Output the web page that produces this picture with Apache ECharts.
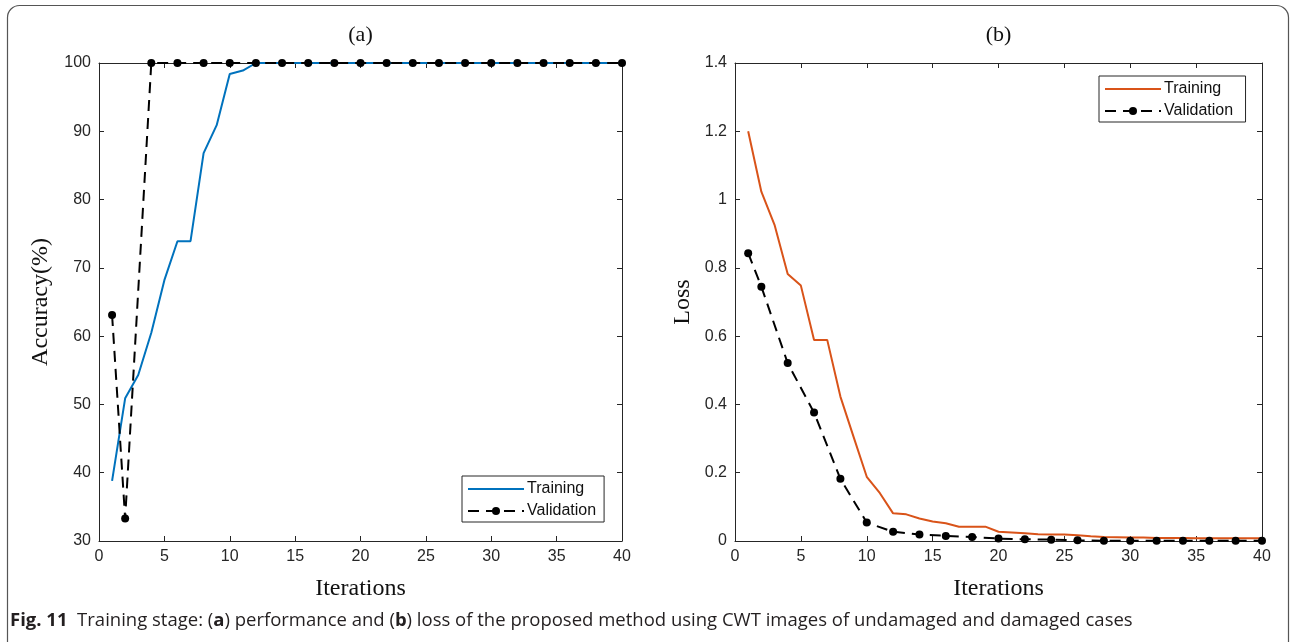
<!DOCTYPE html>
<html>
<head>
<meta charset="utf-8">
<script src="https://cdn.jsdelivr.net/npm/echarts@6/dist/echarts.min.js"></script>
<style>
  html, body { margin: 0; padding: 0; background: #fff; }
  #chart { width: 1292px; height: 642px; }
</style>
</head>
<body>
<div id="chart"></div>
<script>
// (a) accuracy per iteration
const accIter = [1,2,3,4,5,6,7,8,9,10,11,12,13,14,15,16,17,18,19,20,21,22,23,24,25,26,27,28,29,30,31,32,33,34,35,36,37,38,39,40];
const accTrain = [38.8,50.9,54.3,60.5,68.2,73.9,73.9,86.8,90.9,98.4,98.9,100,100,100,100,100,100,100,100,100,100,100,100,100,100,100,100,100,100,100,100,100,100,100,100,100,100,100,100,100];
const valIter = [1,2,4,6,8,10,12,14,16,18,20,22,24,26,28,30,32,34,36,38,40];
const accVal = [63.1,33.3,100,100,100,100,100,100,100,100,100,100,100,100,100,100,100,100,100,100,100];

// (b) loss per iteration
const lossIter = accIter;
const lossTrain = [1.200,1.023,0.926,0.782,0.748,0.589,0.589,0.423,0.305,0.188,0.140,0.081,0.078,0.066,0.057,0.052,0.042,0.042,0.042,0.027,0.025,0.023,0.020,0.019,0.019,0.017,0.014,0.012,0.011,0.010,0.010,0.009,0.009,0.009,0.008,0.008,0.008,0.008,0.008,0.008];
const lossVal = [0.843,0.745,0.521,0.376,0.182,0.054,0.027,0.019,0.015,0.012,0.007,0.005,0.004,0.002,0.001,0.001,0.001,0.001,0.001,0.001,0.001];

const panelTitles = ['(a)', '(b)'];
const xName = 'Iterations';
const yNames = ['Accuracy(%)', 'Loss'];
const seriesNames = ['Training', 'Validation'];
const captionBold = 'Fig. 11';

const AX = '#262626';
const BLUE = '#0072BD';
const ORANGE = '#D95319';
const SERIF = '"Liberation Serif", "DejaVu Serif", serif';
const SANS = '"Liberation Sans", Arial, sans-serif';

const pair = (xs, ys) => xs.map((x, i) => [x, ys[i]]);

function valueAxis(gridIndex, pos, min, max, interval, showLabel) {
  return {
    type: 'value', gridIndex, position: pos, min, max, interval,
    axisLine: { show: true, onZero: false, lineStyle: { color: AX, width: 1 } },
    axisTick: { show: true, inside: true, length: 5, lineStyle: { color: AX } },
    axisLabel: { show: showLabel, color: AX, fontFamily: SANS, fontSize: 16, margin: 8 },
    splitLine: { show: false }
  };
}

const grids = [
  { left: 99, top: 63, width: 523, height: 478 },
  { left: 735, top: 63, width: 527, height: 478 }
];

const xAxes = [
  valueAxis(0, 'bottom', 0, 40, 5, true),
  valueAxis(0, 'top', 0, 40, 5, false),
  valueAxis(1, 'bottom', 0, 40, 5, true),
  valueAxis(1, 'top', 0, 40, 5, false)
];
const yAxes = [
  valueAxis(0, 'left', 30, 100, 10, true),
  valueAxis(0, 'right', 30, 100, 10, false),
  valueAxis(1, 'left', 0, 1.4, 0.2, true),
  valueAxis(1, 'right', 0, 1.4, 0.2, false)
];

function trainSeries(name, xi, yi, data, color) {
  return {
    name, type: 'line', xAxisIndex: xi, yAxisIndex: yi, data,
    showSymbol: false, symbol: 'none', animation: false,
    lineStyle: { color, width: 2 }, itemStyle: { color }
  };
}
function valSeries(name, xi, yi, data) {
  return {
    name, type: 'line', xAxisIndex: xi, yAxisIndex: yi, data,
    symbol: 'circle', symbolSize: 8, animation: false, clip: false,
    lineStyle: { color: '#000', width: 2, type: [11, 7] },
    itemStyle: { color: '#000' }
  };
}

// plain line sample for the training entry, line + dot for validation
function legendAt(left, top, trainName, valName) {
  return {
    data: [
      { name: trainName, itemStyle: { opacity: 0 } },
      { name: valName }
    ],
    left, top, orient: 'vertical',
    backgroundColor: '#fff', borderColor: AX, borderWidth: 1,
    padding: [5, 8, 3, 5], itemGap: 6, itemWidth: 56, itemHeight: 10,
    textStyle: { color: '#111', fontFamily: SANS, fontSize: 16, padding: [0, 0, 0, -2] },
    selectedMode: false
  };
}

const option = {
  backgroundColor: '#fff',
  animation: false,
  grid: grids,
  xAxis: xAxes,
  yAxis: yAxes,
  legend: [
    legendAt(462, 476, seriesNames[0], seriesNames[1]),
    legendAt(1099, 76, seriesNames[0] + ' ', seriesNames[1] + ' ')
  ],
  series: [
    trainSeries(seriesNames[0], 0, 0, pair(accIter, accTrain), BLUE),
    valSeries(seriesNames[1], 0, 0, pair(valIter, accVal)),
    trainSeries(seriesNames[0] + ' ', 2, 2, pair(lossIter, lossTrain), ORANGE),
    valSeries(seriesNames[1] + ' ', 2, 2, pair(valIter, lossVal))
  ],
  graphic: [
    { type: 'rect', shape: { x: 7.5, y: 5.5, width: 1281, height: 680, r: 12 },
      style: { fill: 'none', stroke: '#555', lineWidth: 1.2 }, z: -10 },
    { type: 'text', x: 360.5, y: 35, style: { text: panelTitles[0], font: '22px ' + SERIF, fill: '#111', textAlign: 'center', textVerticalAlign: 'middle' } },
    { type: 'text', x: 998.5, y: 35, style: { text: panelTitles[1], font: '22px ' + SERIF, fill: '#111', textAlign: 'center', textVerticalAlign: 'middle' } },
    { type: 'text', x: 360.5, y: 589, style: { text: xName, font: '24px ' + SERIF, fill: '#111', textAlign: 'center', textVerticalAlign: 'middle' } },
    { type: 'text', x: 998.5, y: 589, style: { text: xName, font: '24px ' + SERIF, fill: '#111', textAlign: 'center', textVerticalAlign: 'middle' } },
    { type: 'text', x: 41, y: 302, rotation: Math.PI / 2, style: { text: yNames[0], font: '24px ' + SERIF, fill: '#111', textAlign: 'center', textVerticalAlign: 'middle' } },
    { type: 'text', x: 683, y: 302, rotation: Math.PI / 2, style: { text: yNames[1], font: '24px ' + SERIF, fill: '#111', textAlign: 'center', textVerticalAlign: 'middle' } },
    { type: 'text', x: 10, y: 621,
      style: {
        text: '{b|' + captionBold + '}{n|  Training stage: (}{b|a}{n|) performance and (}{b|b}{n|) loss of the proposed method using CWT images of undamaged and damaged cases}',
        textVerticalAlign: 'middle',
        rich: {
          b: { fontFamily: '"Open Sans", sans-serif', fontWeight: 'bold', fontSize: 18.5, fill: '#231f20' },
          n: { fontFamily: '"Open Sans", sans-serif', fontSize: 18.5, fill: '#231f20' }
        }
      } }
  ]
};

const chart = echarts.init(document.getElementById('chart'), null, { renderer: 'canvas' });
chart.setOption(option);
</script>
</body>
</html>
